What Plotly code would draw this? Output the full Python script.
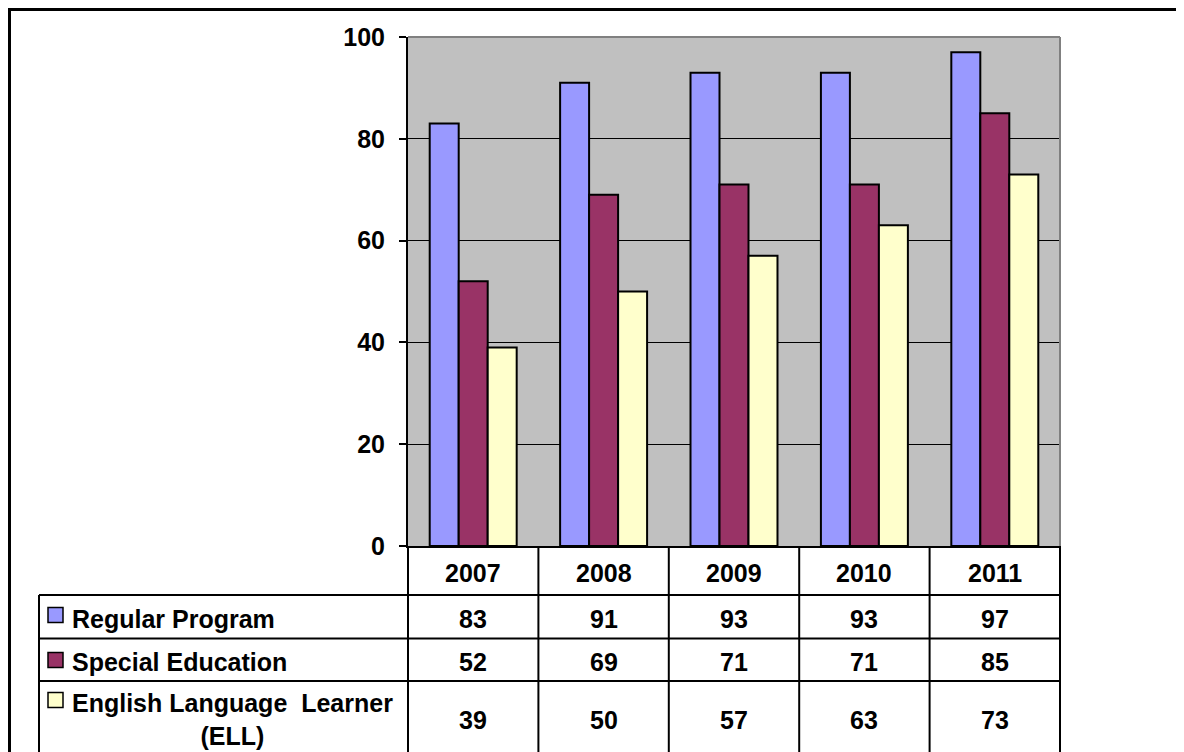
import plotly.graph_objects as go

# ---- data ----
years = ["2007", "2008", "2009", "2010", "2011"]
series_names = ["Regular Program", "Special Education", "English Language  Learner (ELL)"]
row_labels = ["Regular Program", "Special Education", "English Language\u00a0\u00a0Learner<br>(ELL)"]
regular = [83, 91, 93, 93, 97]
special = [52, 69, 71, 71, 85]
ell = [39, 50, 57, 63, 73]
colors = ["#9999FF", "#993366", "#FFFFCC"]
y_ticks = [0, 20, 40, 60, 80, 100]
series_values = [regular, special, ell]

OFF = 8  # page body margin
W, H = 1184, 752
PL, PR, PT, PB = 408, 1060, 37, 546  # plot area in page pixels


def px2x(px):
    return (px - PL) / (PR - PL)


def py2y(py):
    return (PB - py) / (PB - PT)


FONT = "Liberation Sans, Arial, sans-serif"
FS = 25
fig = go.Figure()
for name, vals, col in zip(series_names, series_values, colors):
    fig.add_trace(go.Bar(x=years, y=vals, name=name,
                         marker=dict(color=col, line=dict(color="black", width=2))))

fig.update_layout(
    width=W - OFF, height=H - OFF, autosize=False,
    margin=dict(l=PL - OFF, r=W - PR, t=PT - OFF, b=H - PB, pad=0),
    paper_bgcolor="white", plot_bgcolor="#C0C0C0",
    barmode="group", bargap=0.333, bargroupgap=0,
    showlegend=False,
    font=dict(family=FONT, size=FS, color="black", weight="bold"),
)
fig.update_xaxes(type="category", range=[-0.5, len(years) - 0.5], showticklabels=False, ticks="",
                 showline=True, linecolor="black", linewidth=2, showgrid=False)
fig.update_yaxes(range=[0, 100], tickvals=y_ticks, showgrid=True, gridcolor="black",
                 gridwidth=1.4, zeroline=False, showline=True, linecolor="black",
                 linewidth=2, ticks="outside", ticklen=7, tickwidth=2, tickcolor="black",
                 ticklabelstandoff=9,
                 tickfont=dict(family=FONT, size=FS, color="black", weight="bold"))

shapes = []
# plot area gray top/right border
shapes.append(dict(type="line", xref="paper", yref="paper", x0=0, x1=1, y0=1, y1=1,
                   line=dict(color="#808080", width=2), layer="above"))
shapes.append(dict(type="line", xref="paper", yref="paper", x0=1, x1=1, y0=0, y1=1,
                   line=dict(color="#808080", width=2), layer="above"))

# data table grid
row_lines = [595, 638.5, 681]
table_bottom = 752
label_left = 39
n = len(years)
for ry in row_lines:
    shapes.append(dict(type="line", xref="paper", yref="paper", x0=px2x(label_left), x1=1,
                       y0=py2y(ry), y1=py2y(ry), line=dict(color="black", width=2)))
shapes.append(dict(type="line", xref="paper", yref="paper", x0=px2x(label_left), x1=px2x(label_left),
                   y0=py2y(row_lines[0]), y1=py2y(table_bottom), line=dict(color="black", width=2)))
for i in range(n + 1):
    xx = i / n
    shapes.append(dict(type="line", xref="paper", yref="paper", x0=xx, x1=xx,
                       y0=0, y1=py2y(table_bottom), line=dict(color="black", width=2)))

# legend keys
key_centers = [615, 660, 700]
for c, yc in zip(colors, key_centers):
    shapes.append(dict(type="rect", xref="paper", yref="paper", x0=px2x(48), x1=px2x(63),
                       y0=py2y(yc + 7.5), y1=py2y(yc - 7.5), fillcolor=c,
                       line=dict(color="black", width=1.5)))

# outer frame (top + left)
shapes.append(dict(type="rect", xref="paper", yref="paper", x0=px2x(6), x1=px2x(W + 10),
                   y0=py2y(5), y1=py2y(11), fillcolor="black", line=dict(width=0)))
shapes.append(dict(type="rect", xref="paper", yref="paper", x0=px2x(6), x1=px2x(11),
                   y0=py2y(5), y1=py2y(H + 10), fillcolor="black", line=dict(width=0)))
fig.update_layout(shapes=shapes)

annotations = []
header_y = 573
row_text_y = [619, 662, 720]
for i, yr in enumerate(years):
    annotations.append(dict(x=(i + 0.5) / n, xref="paper", y=py2y(header_y), yref="paper", text=yr,
                            showarrow=False, xanchor="center", yanchor="middle"))
for vals, ty in zip(series_values, row_text_y):
    for i, v in enumerate(vals):
        annotations.append(dict(x=(i + 0.5) / n, xref="paper", y=py2y(ty), yref="paper", text=str(v),
                                showarrow=False, xanchor="center", yanchor="middle"))
label_y = [619, 662, 719]
for lab, ty in zip(row_labels, label_y):
    annotations.append(dict(x=px2x(70), xref="paper", y=py2y(ty), yref="paper", text=lab,
                            showarrow=False, xanchor="left", yanchor="middle",
                            align="center"))
fig.update_layout(annotations=annotations)

fig.write_html("out.html")
